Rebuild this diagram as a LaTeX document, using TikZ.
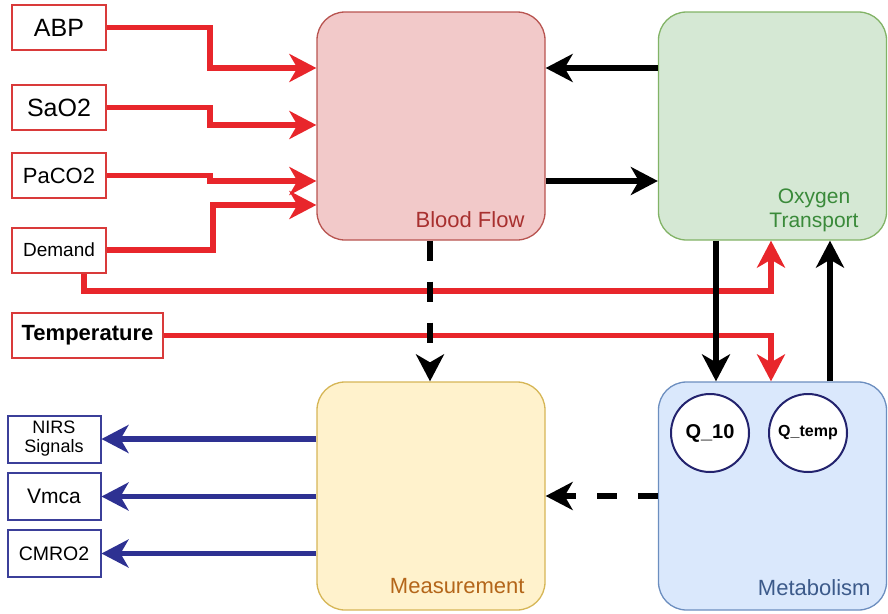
\documentclass[tikz,border=0pt]{standalone}
\usepackage{fontspec}
\setmainfont{Liberation Sans}
\usetikzlibrary{arrows.meta,calc}
\definecolor{arrred}{HTML}{E8262B}
\definecolor{boxred}{HTML}{D93A3A}
\definecolor{arrblue}{HTML}{2E3192}
\definecolor{boxblue}{HTML}{3B3F99}
\definecolor{bffill}{HTML}{F2C9C9}
\definecolor{bfline}{HTML}{B85450}
\definecolor{bftext}{HTML}{A8302F}
\definecolor{otfill}{HTML}{D5E8D4}
\definecolor{otline}{HTML}{82B366}
\definecolor{ottext}{HTML}{3A8A3A}
\definecolor{msfill}{HTML}{FFF2CC}
\definecolor{msline}{HTML}{D6B656}
\definecolor{mstext}{HTML}{B4661A}
\definecolor{mbfill}{HTML}{DAE8FC}
\definecolor{mbline}{HTML}{6C8EBF}
\definecolor{mbtext}{HTML}{3C5A8A}
\definecolor{circline}{HTML}{23236E}
\tikzset{
  bigbox/.style={draw, line width=1.3pt, rounded corners=28pt, minimum width=228pt, minimum height=228pt, inner sep=0pt},
  inbox/.style={draw=boxred, fill=white, line width=2pt, minimum width=94pt, minimum height=45pt, inner sep=0pt},
  outbox/.style={draw=boxblue, fill=white, line width=2pt, minimum width=93pt, minimum height=47pt, inner sep=0pt, align=center},
  qcirc/.style={circle, draw=circline, fill=white, line width=2pt, minimum size=78pt, inner sep=0pt, font=\bfseries},
  tip/.style={-{Stealth[length=27pt,width=28pt,inset=8pt]}},
  redarr/.style={tip, draw=arrred, line width=5.5pt},
  blackarr/.style={tip, draw=black, line width=5.5pt},
  dasharr/.style={tip, draw=black, line width=6pt, dash pattern=on 20pt off 21pt},
  bluearr/.style={tip, draw=arrblue, line width=5.5pt},
}
\begin{document}
\begin{tikzpicture}[x=1pt,y=-1pt]
\useasboundingbox (0,0) rectangle (888,613);
% big boxes
\node[bigbox, draw=bfline, fill=bffill] (bf) at (431,126) {};
\node[bigbox, draw=otline, fill=otfill] (ot) at (772.5,126) {};
\node[bigbox, draw=msline, fill=msfill] (ms) at (431,496) {};
\node[bigbox, draw=mbline, fill=mbfill] (mb) at (772.5,496) {};
\node[anchor=east, text=bftext, font=\fontsize{22}{24}\selectfont] (bft) at (528,220) {Blood Flow};
\node[text=ottext, font=\fontsize{21}{24}\selectfont, align=center] (ott) at (814,210) {Oxygen\\Transport};
\node[anchor=east, text=mstext, font=\fontsize{22}{24}\selectfont] (mst) at (528,586) {Measurement};
\node[anchor=east, text=mbtext, font=\fontsize{22}{24}\selectfont] (mbt) at (874,588) {Metabolism};
% circles
\node[qcirc, font=\bfseries\fontsize{20}{22}\selectfont] (q10) at (710,433) {Q\_10};
\node[qcirc, font=\bfseries\fontsize{16}{18}\selectfont] (qt) at (808,433) {Q\_temp};
% inputs
\node[inbox, font=\fontsize{25}{27}\selectfont] (abp) at (59,27.5) {ABP};
\node[inbox, font=\fontsize{25}{27}\selectfont] (sao) at (59,107.5) {SaO2};
\node[inbox, font=\fontsize{22}{24}\selectfont] (pac) at (59,175.5) {PaCO2};
\node[inbox, font=\fontsize{19}{21}\selectfont] (dem) at (59,250) {Demand};
\node[inbox, minimum width=151pt, font=\bfseries\fontsize{22}{24}\selectfont] (tmp) at (87.5,335.5) {Temperature};
% outputs
\node[outbox, font=\fontsize{18}{19}\selectfont] (nirs) at (54,439) {NIRS\\Signals};
\node[outbox, font=\fontsize{21}{23}\selectfont] (vmca) at (54,496.5) {Vmca};
\node[outbox, font=\fontsize{19.5}{21}\selectfont] (cmro) at (54,553.5) {CMRO2};
% helper coordinates
\coordinate (bfa) at (bf.west |- 0,68);
\coordinate (bfb) at (bf.west |- 0,125);
\coordinate (bfc) at (bf.west |- 0,181);
\coordinate (bfd) at (bf.west |- 0,205);
\coordinate (otin) at (771,0 |- ot.south);
\coordinate (mbin) at (771,0 |- mb.north);
% red inputs
\draw[redarr] (abp.east) -- (210,27.5) -- (210,68) -- (bfa);
\draw[redarr] (sao.east) -- (210,107.5) -- (210,125) -- (bfb);
\draw[redarr] (pac.east) -- (210,175.5) -- (210,181) -- (bfc);
\draw[redarr] (dem.east) -- (213,250) -- (213,205) -- (bfd);
\draw[redarr] (84,0 |- dem.south) -- (84,291) -- (771,291) -- (otin);
\draw[redarr] (tmp.east) -- (771,335.5) -- (mbin);
% black arrows
\draw[blackarr] (ot.west |- 0,68) -- (bf.east |- 0,68);
\draw[blackarr] (bf.east |- 0,181) -- (ot.west |- 0,181);
\draw[blackarr] (716,0 |- ot.south) -- (716,0 |- mb.north);
\draw[blackarr] (830,0 |- mb.north) -- (830,0 |- ot.south);
% dashed
\draw[dasharr] (430,0 |- bf.south) -- (430,0 |- ms.north);
\draw[dasharr] (mb.west |- 0,496) -- (ms.east |- 0,496);
% blue outputs
\draw[bluearr] (ms.west |- nirs.east) -- (nirs.east);
\draw[bluearr] (ms.west |- vmca.east) -- (vmca.east);
\draw[bluearr] (ms.west |- cmro.east) -- (cmro.east);
\end{tikzpicture}
\end{document}
